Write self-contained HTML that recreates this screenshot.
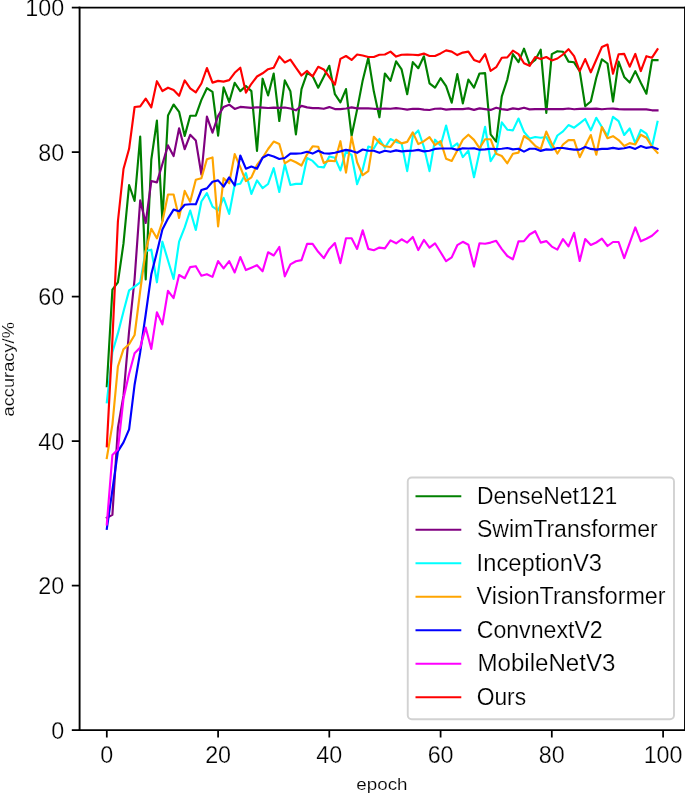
<!DOCTYPE html>
<html><head><meta charset="utf-8"><title>accuracy</title>
<style>
html,body{margin:0;padding:0;background:#fff;}
svg{display:block;}
text{font-family:"Liberation Sans","DejaVu Sans",sans-serif;fill:#000;}
.tk{font-size:23.3px;stroke:#fff;stroke-width:0.25px;}
.lg{font-size:23px;stroke:#fff;stroke-width:0.2px;}
.al{font-size:16.8px;stroke:#fff;stroke-width:0.15px;}
</style></head><body>
<svg width="685" height="795" viewBox="0 0 685 795">
<rect x="0" y="0" width="685" height="795" fill="#fff"/>

<g fill="none" stroke-width="2.15" stroke-linejoin="round" stroke-linecap="square">
<polyline stroke="#008000" points="106.8,386.2 112.4,289.6 117.9,282.3 123.5,243.4 129.1,185.0 134.6,201.0 140.2,136.6 145.7,279.4 151.3,159.7 156.9,120.6 162.4,221.0 168.0,115.5 173.6,104.5 179.1,111.8 184.7,135.9 190.2,115.7 195.8,115.6 201.4,99.9 206.9,88.2 212.5,91.8 218.1,135.6 223.6,87.4 229.2,102.0 234.7,82.8 240.3,91.1 245.9,86.0 251.4,91.1 257.0,150.9 262.6,78.7 268.1,95.5 273.7,73.6 279.3,121.0 284.8,80.4 290.4,91.3 295.9,134.4 301.5,89.1 307.1,73.1 312.6,76.0 318.2,87.7 323.8,76.7 329.3,65.8 334.9,94.2 340.4,102.3 346.0,89.1 351.6,135.8 357.1,109.6 362.7,80.4 368.3,57.7 373.8,91.3 379.4,117.3 384.9,73.5 390.5,80.8 396.1,61.4 401.6,69.4 407.2,94.2 412.8,62.1 418.3,68.2 423.9,56.3 429.5,83.3 435.0,87.7 440.6,78.2 446.1,86.2 451.7,102.7 457.3,74.1 462.8,103.4 468.4,79.6 474.0,87.7 479.5,73.5 485.1,73.1 490.6,134.4 496.2,141.7 501.8,96.4 507.3,79.6 512.9,54.1 518.5,62.1 524.0,48.7 529.6,64.3 535.2,59.9 540.7,49.7 546.3,112.9 551.8,54.1 557.4,51.2 563.0,51.8 568.5,61.6 574.1,62.3 579.7,71.1 585.2,106.1 590.8,101.5 596.3,77.7 601.9,59.4 607.5,63.5 613.0,101.5 618.6,61.6 624.2,76.9 629.7,82.5 635.3,71.1 640.8,82.8 646.4,93.7 652.0,60.1 657.5,60.1"/>
<polyline stroke="#800080" points="106.8,517.8 112.4,514.9 117.9,428.0 123.5,395.7 129.1,331.0 134.6,279.0 140.2,200.4 145.7,223.0 151.3,181.0 156.9,182.4 162.4,164.0 168.0,145.4 173.6,156.1 179.1,128.3 184.7,149.1 190.2,134.8 195.8,140.4 201.4,174.5 206.9,116.6 212.5,132.7 218.1,115.9 223.6,106.9 229.2,104.7 234.7,108.9 240.3,106.9 245.9,107.4 251.4,107.9 257.0,107.2 262.6,107.6 268.1,108.0 273.7,107.6 279.3,107.9 284.8,107.5 290.4,108.5 295.9,110.3 301.5,105.9 307.1,107.4 312.6,108.1 318.2,108.1 323.8,108.8 329.3,107.1 334.9,109.1 340.4,109.1 346.0,108.5 351.6,107.4 357.1,108.4 362.7,108.4 368.3,108.4 373.8,108.8 379.4,108.8 384.9,108.5 390.5,108.8 396.1,108.1 401.6,108.8 407.2,109.6 412.8,108.8 418.3,108.8 423.9,109.6 429.5,110.0 435.0,108.8 440.6,108.5 446.1,109.6 451.7,109.1 457.3,109.1 462.8,109.1 468.4,108.4 474.0,109.9 479.5,108.4 485.1,109.1 490.6,109.9 496.2,107.7 501.8,109.1 507.3,109.9 512.9,108.4 518.5,109.1 524.0,107.7 529.6,109.4 535.2,109.1 540.7,109.1 546.3,109.1 551.8,109.1 557.4,109.1 563.0,109.1 568.5,108.5 574.1,109.3 579.7,108.9 585.2,108.6 590.8,108.9 596.3,108.6 601.9,109.3 607.5,108.8 613.0,108.6 618.6,109.1 624.2,109.4 629.7,109.4 635.3,109.4 640.8,109.4 646.4,109.4 652.0,110.3 657.5,110.3"/>
<polyline stroke="#00ffff" points="106.8,402.3 112.4,352.2 117.9,333.4 123.5,311.5 129.1,290.4 134.6,286.7 140.2,282.3 145.7,251.0 151.3,249.7 156.9,282.3 162.4,241.7 168.0,260.5 173.6,279.0 179.1,241.7 184.7,227.4 190.2,210.5 195.8,230.0 201.4,201.5 206.9,193.1 212.5,206.6 218.1,210.3 223.6,197.9 229.2,213.9 234.7,184.7 240.3,183.7 245.9,173.1 251.4,193.9 257.0,180.4 262.6,188.1 268.1,184.0 273.7,168.2 279.3,192.0 284.8,164.4 290.4,185.0 295.9,183.9 301.5,183.9 307.1,158.0 312.6,160.9 318.2,166.7 323.8,167.4 329.3,156.5 334.9,157.7 340.4,170.4 346.0,151.4 351.6,155.0 357.1,184.2 362.7,169.6 368.3,146.6 373.8,148.5 379.4,139.0 384.9,147.7 390.5,139.0 396.1,141.9 401.6,143.4 407.2,171.1 412.8,136.1 418.3,130.5 423.9,147.0 429.5,171.1 435.0,139.7 440.6,145.5 446.1,125.5 451.7,147.7 457.3,143.4 462.8,157.1 468.4,150.7 474.0,177.2 479.5,151.9 485.1,126.8 490.6,161.1 496.2,152.3 501.8,122.4 507.3,129.7 512.9,130.4 518.5,118.5 524.0,131.9 529.6,138.5 535.2,137.0 540.7,137.7 546.3,137.0 551.8,148.0 557.4,135.5 563.0,131.4 568.5,125.1 574.1,127.7 579.7,123.4 585.2,119.0 590.8,130.4 596.3,117.8 601.9,127.0 607.5,135.8 613.0,116.8 618.6,121.2 624.2,135.0 629.7,128.5 635.3,143.1 640.8,129.9 646.4,133.6 652.0,146.7 657.5,121.9"/>
<polyline stroke="#ffa500" points="106.8,458.0 112.4,424.6 117.9,366.5 123.5,349.2 129.1,344.2 134.6,335.0 140.2,291.0 145.7,250.7 151.3,228.8 156.9,238.3 162.4,221.5 168.0,194.5 173.6,194.5 179.1,217.9 184.7,190.9 190.2,201.7 195.8,179.8 201.4,178.2 206.9,159.2 212.5,157.4 218.1,226.4 223.6,178.2 229.2,183.3 234.7,154.1 240.3,167.2 245.9,181.1 251.4,177.4 257.0,165.0 262.6,157.7 268.1,149.0 273.7,141.6 279.3,144.0 284.8,163.3 290.4,159.8 295.9,162.3 301.5,165.5 307.1,154.3 312.6,146.3 318.2,146.7 323.8,163.1 329.3,160.6 334.9,161.2 340.4,141.2 346.0,172.6 351.6,136.8 357.1,162.3 362.7,175.2 368.3,171.1 373.8,136.8 379.4,142.8 384.9,146.3 390.5,147.0 396.1,139.7 401.6,143.4 407.2,141.9 412.8,132.4 418.3,144.1 423.9,141.2 429.5,137.2 435.0,145.1 440.6,141.2 446.1,158.7 451.7,160.9 457.3,150.4 462.8,139.8 468.4,134.7 474.0,139.9 479.5,148.2 485.1,139.2 490.6,139.2 496.2,153.8 501.8,156.0 507.3,163.3 512.9,153.8 518.5,152.6 524.0,136.0 529.6,139.9 535.2,145.8 540.7,149.1 546.3,131.6 551.8,143.9 557.4,153.5 563.0,144.5 568.5,140.1 574.1,140.1 579.7,157.2 585.2,146.1 590.8,135.0 596.3,154.7 601.9,127.0 607.5,138.2 613.0,136.2 618.6,140.1 624.2,146.0 629.7,143.1 635.3,144.5 640.8,134.7 646.4,137.7 652.0,146.7 657.5,152.8"/>
<polyline stroke="#0000ff" points="106.8,528.8 112.4,490.0 117.9,451.4 123.5,442.4 129.1,429.3 134.6,384.7 140.2,352.2 145.7,314.5 151.3,274.3 156.9,252.3 162.4,229.6 168.0,218.6 173.6,209.6 179.1,211.3 184.7,204.7 190.2,204.2 195.8,204.3 201.4,190.0 206.9,188.4 212.5,181.8 218.1,180.4 223.6,186.6 229.2,177.4 234.7,185.5 240.3,155.5 245.9,168.7 251.4,166.5 257.0,168.7 262.6,157.7 268.1,154.8 273.7,156.6 279.3,159.0 284.8,158.0 290.4,153.6 295.9,153.6 301.5,153.3 307.1,151.8 312.6,153.6 318.2,150.7 323.8,153.3 329.3,153.6 334.9,152.8 340.4,151.4 346.0,149.9 351.6,150.9 357.1,152.8 362.7,149.5 368.3,150.7 373.8,150.7 379.4,152.8 384.9,150.7 390.5,151.8 396.1,150.4 401.6,151.4 407.2,150.9 412.8,150.7 418.3,149.9 423.9,151.4 429.5,150.7 435.0,148.9 440.6,148.5 446.1,148.5 451.7,148.5 457.3,149.9 462.8,148.2 468.4,148.5 474.0,148.2 479.5,149.7 485.1,149.4 490.6,148.7 496.2,149.1 501.8,148.7 507.3,148.0 512.9,149.4 518.5,148.7 524.0,151.6 529.6,148.7 535.2,148.7 540.7,150.9 546.3,149.4 551.8,149.7 557.4,148.0 563.0,148.0 568.5,148.9 574.1,149.6 579.7,149.6 585.2,147.0 590.8,148.9 596.3,149.6 601.9,148.9 607.5,148.9 613.0,147.9 618.6,148.9 624.2,148.2 629.7,147.0 635.3,148.9 640.8,146.0 646.4,147.9 652.0,147.0 657.5,148.9"/>
<polyline stroke="#ff00ff" points="106.8,524.4 112.4,455.0 117.9,449.5 123.5,398.6 129.1,373.8 134.6,353.3 140.2,347.4 145.7,327.6 151.3,348.9 156.9,312.3 162.4,324.4 168.0,290.8 173.6,298.1 179.1,275.0 184.7,278.2 190.2,267.1 195.8,266.2 201.4,275.7 206.9,274.2 212.5,276.9 218.1,261.1 223.6,268.4 229.2,261.1 234.7,272.5 240.3,257.0 245.9,270.1 251.4,267.7 257.0,265.2 262.6,271.3 268.1,252.3 273.7,255.5 279.3,247.0 284.8,276.3 290.4,264.4 295.9,261.3 301.5,260.1 307.1,243.8 312.6,243.8 318.2,251.8 323.8,258.1 329.3,248.9 334.9,243.1 340.4,263.1 346.0,238.2 351.6,238.2 357.1,248.9 362.7,230.4 368.3,248.9 373.8,250.2 379.4,247.6 384.9,248.4 390.5,240.4 396.1,243.3 401.6,239.3 407.2,242.6 412.8,237.0 418.3,250.1 423.9,239.9 429.5,247.7 435.0,243.3 440.6,252.2 446.1,261.2 451.7,257.4 457.3,245.2 462.8,241.8 468.4,244.7 474.0,266.6 479.5,243.3 485.1,243.7 490.6,242.6 496.2,240.8 501.8,249.1 507.3,256.0 512.9,259.3 518.5,241.4 524.0,241.1 529.6,234.5 535.2,231.2 540.7,242.6 546.3,241.1 551.8,246.6 557.4,249.6 563.0,239.1 568.5,246.4 574.1,232.8 579.7,261.0 585.2,239.1 590.8,245.0 596.3,242.5 601.9,238.7 607.5,246.0 613.0,242.0 618.6,242.0 624.2,258.1 629.7,242.8 635.3,227.4 640.8,241.3 646.4,238.7 652.0,235.8 657.5,230.8"/>
<polyline stroke="#ff0000" points="106.8,446.3 112.4,340.0 117.9,221.5 123.5,169.0 129.1,148.8 134.6,107.0 140.2,106.4 145.7,98.7 151.3,107.4 156.9,81.2 162.4,91.0 168.0,87.7 173.6,89.9 179.1,95.8 184.7,80.4 190.2,88.3 195.8,92.3 201.4,83.5 206.9,68.0 212.5,82.6 218.1,80.9 223.6,81.6 229.2,80.1 234.7,72.8 240.3,67.7 245.9,92.6 251.4,83.8 257.0,76.5 262.6,73.3 268.1,69.2 273.7,67.7 279.3,56.4 284.8,62.5 290.4,59.6 295.9,67.7 301.5,75.5 307.1,70.9 312.6,76.4 318.2,66.8 323.8,69.4 329.3,77.0 334.9,84.7 340.4,58.9 346.0,56.0 351.6,59.9 357.1,54.5 362.7,55.5 368.3,57.0 373.8,57.0 379.4,54.8 384.9,54.5 390.5,51.6 396.1,56.6 401.6,54.8 407.2,54.5 412.8,54.8 418.3,55.1 423.9,53.6 429.5,56.0 435.0,56.0 440.6,53.4 446.1,50.4 451.7,51.6 457.3,55.1 462.8,52.6 468.4,51.6 474.0,59.9 479.5,62.1 485.1,54.1 490.6,70.9 496.2,67.2 501.8,57.7 507.3,57.4 512.9,50.7 518.5,54.1 524.0,63.3 529.6,65.8 535.2,57.0 540.7,58.9 546.3,57.0 551.8,60.4 557.4,58.5 563.0,54.5 568.5,49.2 574.1,56.2 579.7,71.1 585.2,59.1 590.8,72.3 596.3,59.7 601.9,47.0 607.5,44.5 613.0,73.7 618.6,54.3 624.2,53.9 629.7,66.7 635.3,53.9 640.8,71.1 646.4,56.2 652.0,57.7 657.5,49.2"/>
</g>
<g stroke="#000" stroke-width="1.9" fill="none" stroke-linecap="square">
<line x1="79.6" y1="7.6" x2="79.6" y2="730.1"/>
<line x1="79.6" y1="730.1" x2="685.0" y2="730.1"/>
<line x1="79.6" y1="7.6" x2="685.0" y2="7.6"/>
<line x1="685.0" y1="7.6" x2="685.0" y2="730.1"/>
</g>
<g stroke="#000" stroke-width="1.75" stroke-linecap="butt">
<line x1="106.8" y1="730.1" x2="106.8" y2="737.5"/>
<line x1="79.6" y1="730.1" x2="71.8" y2="730.1"/>
<line x1="218.1" y1="730.1" x2="218.1" y2="737.5"/>
<line x1="79.6" y1="585.6" x2="71.8" y2="585.6"/>
<line x1="329.3" y1="730.1" x2="329.3" y2="737.5"/>
<line x1="79.6" y1="441.1" x2="71.8" y2="441.1"/>
<line x1="440.6" y1="730.1" x2="440.6" y2="737.5"/>
<line x1="79.6" y1="296.6" x2="71.8" y2="296.6"/>
<line x1="551.8" y1="730.1" x2="551.8" y2="737.5"/>
<line x1="79.6" y1="152.1" x2="71.8" y2="152.1"/>
<line x1="663.1" y1="730.1" x2="663.1" y2="737.5"/>
<line x1="79.6" y1="7.6" x2="71.8" y2="7.6"/>
</g>
<text class="tk" x="106.8" y="762.7" text-anchor="middle">0</text>
<text class="tk" x="64.2" y="738.8" text-anchor="end">0</text>
<text class="tk" x="218.1" y="762.7" text-anchor="middle">20</text>
<text class="tk" x="64.2" y="594.3" text-anchor="end">20</text>
<text class="tk" x="329.3" y="762.7" text-anchor="middle">40</text>
<text class="tk" x="64.2" y="449.8" text-anchor="end">40</text>
<text class="tk" x="440.6" y="762.7" text-anchor="middle">60</text>
<text class="tk" x="64.2" y="305.3" text-anchor="end">60</text>
<text class="tk" x="551.8" y="762.7" text-anchor="middle">80</text>
<text class="tk" x="64.2" y="160.8" text-anchor="end">80</text>
<text class="tk" x="663.1" y="762.7" text-anchor="middle">100</text>
<text class="tk" x="64.2" y="16.3" text-anchor="end">100</text>
<text class="al" x="381.9" y="789.9" text-anchor="middle" textLength="51.2" lengthAdjust="spacingAndGlyphs">epoch</text>
<text class="al" transform="translate(14.1,369.3) rotate(-90)" text-anchor="middle" textLength="94.3" lengthAdjust="spacingAndGlyphs">accuracy/%</text>
<rect x="407.75" y="477.55" width="266.25" height="241.65" rx="4" ry="4" fill="#fff" fill-opacity="0.8" stroke="#d2d2d2" stroke-width="1.9"/>
<line x1="415.5" y1="496.2" x2="461.3" y2="496.2" stroke="#008000" stroke-width="2.15"/>
<text class="lg" x="476.9" y="503.8" textLength="140.3" lengthAdjust="spacingAndGlyphs">DenseNet121</text>
<line x1="415.5" y1="529.7" x2="461.3" y2="529.7" stroke="#800080" stroke-width="2.15"/>
<text class="lg" x="476.9" y="537.3" textLength="180.9" lengthAdjust="spacingAndGlyphs">SwimTransformer</text>
<line x1="415.5" y1="563.2" x2="461.3" y2="563.2" stroke="#00ffff" stroke-width="2.15"/>
<text class="lg" x="476.6" y="570.8" textLength="125.5" lengthAdjust="spacingAndGlyphs">InceptionV3</text>
<line x1="415.5" y1="596.7" x2="461.3" y2="596.7" stroke="#ffa500" stroke-width="2.15"/>
<text class="lg" x="476.6" y="604.3" textLength="189.0" lengthAdjust="spacingAndGlyphs">VisionTransformer</text>
<line x1="415.5" y1="630.2" x2="461.3" y2="630.2" stroke="#0000ff" stroke-width="2.15"/>
<text class="lg" x="476.7" y="637.8" textLength="126.0" lengthAdjust="spacingAndGlyphs">ConvnextV2</text>
<line x1="415.5" y1="663.7" x2="461.3" y2="663.7" stroke="#ff00ff" stroke-width="2.15"/>
<text class="lg" x="477.4" y="671.3" textLength="138.1" lengthAdjust="spacingAndGlyphs">MobileNetV3</text>
<line x1="415.5" y1="697.2" x2="461.3" y2="697.2" stroke="#ff0000" stroke-width="2.15"/>
<text class="lg" x="476.7" y="704.8" textLength="49.4" lengthAdjust="spacingAndGlyphs">Ours</text>
</svg></body></html>
